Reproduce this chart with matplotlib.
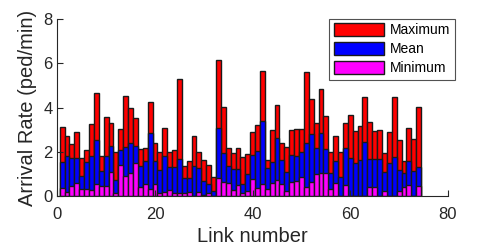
import matplotlib
matplotlib.use("Agg")
import matplotlib.pyplot as plt
import numpy as np

links = list(range(1, 75))
maximum = [3.10, 2.71, 2.34, 2.89, 1.71, 2.06, 3.25, 4.64, 1.82, 3.59,
           3.30, 1.98, 3.01, 4.54, 4.00, 3.52, 2.12, 2.15, 4.27, 2.39,
           2.00, 3.07, 2.00, 2.06, 5.30, 1.36, 1.59, 2.72, 1.98, 1.62,
           1.38, 0.86, 6.16, 4.04, 2.18, 1.95, 2.16, 1.77, 1.89, 2.87,
           3.21, 5.66, 1.63, 2.98, 4.10, 2.41, 2.22, 2.98, 3.04, 3.04,
           5.63, 4.37, 3.28, 4.83, 3.62, 1.97, 2.71, 2.00, 3.31, 3.66,
           2.95, 3.16, 4.49, 3.36, 2.93, 2.98, 1.92, 2.89, 4.46, 2.53,
           1.57, 3.07, 2.56, 4.04]
mean = [1.54, 1.82, 1.69, 1.71, 0.88, 1.54, 1.82, 2.54, 1.10, 1.82,
        2.24, 0.70, 2.09, 2.21, 2.38, 2.27, 1.33, 1.57, 2.86, 1.56,
        1.15, 1.82, 1.30, 1.30, 1.68, 0.82, 0.82, 1.35, 1.24, 0.68,
        0.53, 0.20, 3.06, 1.92, 1.33, 1.21, 1.23, 0.51, 0.97, 1.86,
        2.01, 3.37, 1.24, 1.51, 2.60, 1.63, 1.09, 1.83, 1.80, 1.97,
        2.38, 2.78, 2.15, 2.86, 2.10, 1.01, 1.59, 0.83, 2.15, 1.69,
        1.50, 1.62, 2.45, 1.66, 1.65, 1.65, 1.09, 1.50, 1.77, 1.16,
        1.01, 1.57, 1.13, 1.32]
minimum = [0.36, 0.18, 0.45, 0.59, 0.30, 0.30, 0.26, 0.51, 0.42, 0.45,
           1.09, 0.14, 1.38, 0.91, 1.04, 1.50, 0.41, 0.51, 0.29, 0.53,
           0.12, 0.18, 0.26, 0.12, 0.10, 0.10, 0.17, 0.00, 0.18, 0.05,
           0.14, 0.00, 0.82, 0.60, 0.56, 0.26, 0.50, 0.14, 0.23, 0.74,
           0.36, 0.51, 0.30, 0.56, 0.71, 0.51, 0.20, 0.62, 0.68, 0.86,
           0.41, 0.60, 0.98, 1.01, 1.04, 0.30, 0.56, 0.00, 0.48, 0.00,
           0.00, 0.00, 0.00, 0.41, 0.41, 0.00, 0.21, 0.00, 0.00, 0.21,
           0.41, 0.50, 0.00, 0.45]

plt.rcParams['font.family'] = ['Liberation Sans', 'DejaVu Sans']

fig = plt.figure(figsize=(4.79, 2.46), dpi=100)
ax = fig.add_axes([0.1196, 0.2045, 0.8155, 0.717])

kw = dict(width=1.0, edgecolor='#1a1a1a', linewidth=1.0)
ax.bar(links, maximum, color='#ff0000', label='Maximum', **kw)
ax.bar(links, mean, color='#0000ff', label='Mean', **kw)
ax.bar(links, minimum, color='#ff00ff', label='Minimum', **kw)

ax.set_xlim(0, 80)
ax.set_ylim(0, 8)
ax.set_xticks([0, 20, 40, 60, 80])
ax.set_yticks([0, 2, 4, 6, 8])
ax.spines['top'].set_visible(False)
ax.spines['right'].set_visible(False)
ax.spines['left'].set_color('#262626')
ax.spines['bottom'].set_color('#262626')
ax.tick_params(direction='in', length=4, labelsize=12, colors='#262626')
ax.tick_params(axis='x', pad=8)
ax.set_xlabel('Link number', fontsize=14.5, color='#262626', labelpad=4)
ax.set_ylabel('Arrival Rate (ped/min)', fontsize=14.5, color='#262626', labelpad=4)

leg = ax.legend(loc='upper right', bbox_to_anchor=(1.025, 1.02), fontsize=10,
                frameon=True, fancybox=False, edgecolor='#262626',
                handlelength=3.6, handleheight=1.0, borderpad=0.35,
                labelspacing=0.35, handletextpad=0.4, borderaxespad=0.2)
leg.get_frame().set_linewidth(0.8)

fig.savefig('out.png', dpi=100)
